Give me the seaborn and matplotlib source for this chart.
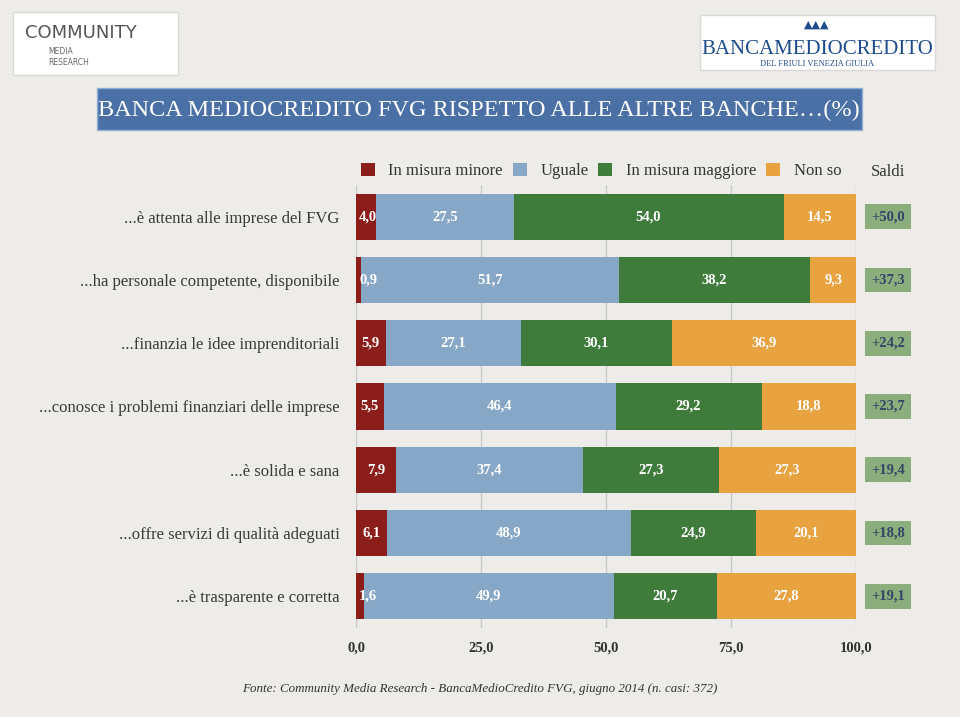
import matplotlib.pyplot as plt
import pandas as pd
import seaborn as sns
from matplotlib.patches import Patch, Rectangle

# Data
categories = [
    "...è attenta alle imprese del FVG",
    "...ha personale competente, disponibile",
    "...finanzia le idee imprenditoriali",
    "...conosce i problemi finanziari delle imprese",
    "...è solida e sana",
    "...offre servizi di qualità adeguati",
    "...è trasparente e corretta",
]
minore = [4.0, 0.9, 5.9, 5.5, 7.9, 6.1, 1.6]
uguale = [27.5, 51.7, 27.1, 46.4, 37.4, 48.9, 49.9]
maggiore = [54.0, 38.2, 30.1, 29.2, 27.3, 24.9, 20.7]
non_so = [14.5, 9.3, 36.9, 18.8, 27.3, 20.1, 27.8]
saldi = [50.0, 37.3, 24.2, 23.7, 19.4, 18.8, 19.1]

series_names = ["In misura minore", "Uguale", "In misura maggiore", "Non so"]
series_vals = [minore, uguale, maggiore, non_so]
colors = ["#8B1E1A", "#86A7C5", "#3F7B3B", "#E8A23F"]
x_ticks = [0, 25, 50, 75, 100]

BG = "#EEECE9"
SERIF = ["Liberation Serif", "DejaVu Serif"]


def fmt(v):
    return f"{v:.1f}".replace(".", ",")


df = pd.DataFrame({"categoria": categories})
for name, vals in zip(series_names, series_vals):
    df[name] = vals
cum = df[series_names].cumsum(axis=1)

sns.set_style("white")
plt.rcParams["font.family"] = SERIF

fig = plt.figure(figsize=(9.6, 7.17), dpi=100, facecolor=BG)
ax = fig.add_axes([356 / 960, 1 - 628 / 717, 500 / 960, 443 / 717])
ax.set_facecolor("none")

# stacked bars: draw cumulative totals from the last series backwards
for name, color in reversed(list(zip(series_names, colors))):
    sns.barplot(
        x=cum[name], y=df["categoria"], orient="h", color=color,
        width=0.73, ax=ax, saturation=1, zorder=2, linewidth=0,
        edgecolor="none",
    )

# value labels inside segments
for i in range(len(categories)):
    left = 0
    for j, name in enumerate(series_names):
        v = df[name][i]
        xc = left + v / 2
        if j == 0:
            xc = max(xc, 2.4)
        ax.text(xc, i, fmt(v), ha="center", va="center", color="white",
                fontsize=10.5, fontweight="bold", zorder=3)
        left += v
    # saldi boxes
    ax.text(106.4, i, "+" + fmt(saldi[i]), ha="center", va="center",
            color="#2E4866", fontsize=10.5, fontweight="bold", clip_on=False,
            bbox=dict(boxstyle="square,pad=0.4", fc="#8BAE7C", ec="none"))

ax.set_xlim(0, 100)
ax.set_ylim(len(categories) - 0.5, -0.5)
ax.set_xticks(x_ticks)
ax.set_xticklabels([fmt(t) for t in x_ticks], fontsize=10.5, fontweight="bold",
                   color="#333333")
ax.tick_params(axis="x", length=0, pad=10)
ax.tick_params(axis="y", length=0, pad=12, labelsize=12, labelcolor="#3A3A3A")
ax.set_xlabel("")
ax.set_ylabel("")
ax.grid(axis="x", color="#C9C9C9", lw=1, zorder=0)
ax.set_axisbelow(True)
for s in ax.spines.values():
    s.set_visible(False)

# legend
handles = [Patch(facecolor=c, edgecolor="none") for c in colors]
fig.legend(handles, series_names, ncol=4, loc="center",
           bbox_to_anchor=(601 / 960, 1 - 171 / 717), frameon=False,
           fontsize=12, handlelength=0.85, handleheight=0.85, columnspacing=0.6,
           handletextpad=0.8, labelcolor="#333333")
fig.text(888 / 960, 1 - 172 / 717, "Saldi", ha="center", va="center",
         fontsize=12, color="#333333")

# title banner
fig.patches.append(Rectangle((97 / 960, 1 - 130 / 717), 765 / 960, 42 / 717,
                             transform=fig.transFigure, fc="#4A70A6",
                             ec="#8FB0D6", lw=1))
fig.text(479 / 960, 1 - 110 / 717,
         "BANCA MEDIOCREDITO FVG RISPETTO ALLE ALTRE BANCHE…(%)",
         ha="center", va="center", color="white", fontsize=17.5)

# logos (simplified)
fig.patches.append(Rectangle((13 / 960, 1 - 75 / 717), 165 / 960, 63 / 717,
                             transform=fig.transFigure, fc="white", ec="#D8D8D8"))
fig.text(25 / 960, 1 - 33 / 717, "COMMUNITY", family=["DejaVu Sans"],
         fontsize=13, color="#555555", va="center")
fig.text(48 / 960, 1 - 57 / 717, "MEDIA\nRESEARCH", family=["DejaVu Sans"],
         fontsize=5.5, color="#666666", va="center", linespacing=1.3)
fig.patches.append(Rectangle((700 / 960, 1 - 70 / 717), 235 / 960, 55 / 717,
                             transform=fig.transFigure, fc="white", ec="#D8D8D8"))
fig.text(817 / 960, 1 - 25 / 717, "▲▲▲", ha="center", va="center",
         family=["DejaVu Sans"], fontsize=8, color="#1F4C8C")
fig.text(817 / 960, 1 - 50 / 717, "BANCAMEDIOCREDITO", ha="center",
         va="center", fontsize=15, color="#1F4C8C")
fig.text(817 / 960, 1 - 64 / 717, "DEL FRIULI VENEZIA GIULIA", ha="center",
         va="center", fontsize=6, color="#1F4C8C")

# footer
fig.text(242 / 960, 1 - 689 / 717,
         "Fonte: Community Media Research - BancaMedioCredito FVG, giugno 2014 (n. casi: 372)",
         ha="left", va="center", fontsize=9.4, style="italic", color="#333333")

fig.savefig("out.png", dpi=100, facecolor=BG)
